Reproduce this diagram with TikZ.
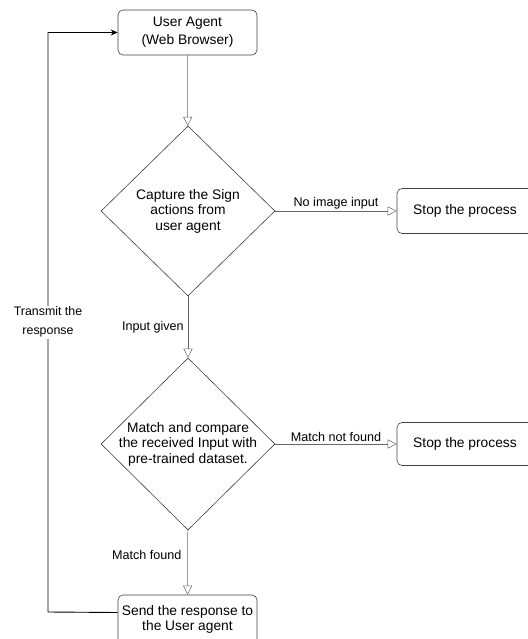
\documentclass[tikz,border=0pt]{standalone}
\usepackage{fontspec}
\setsansfont{Liberation Sans}
\usetikzlibrary{arrows.meta,shapes.geometric}

\tikzset{
  shapeline/.style = {draw = black!75, line width = 0.6pt},
  lbl/.style = {font = \sffamily\fontsize{12.6}{15}\selectfont}
}

\begin{document}
\begin{tikzpicture}[x=1pt,y=-1pt,
    >={Triangle[open,length=9pt,width=9pt]},
    every node/.style={font=\sffamily\fontsize{13.8}{15.5}\selectfont}]

  \useasboundingbox (0,0) rectangle (527,639);

    \node[rectangle,
          shapeline,
          rounded corners = 5pt,
          minimum width = 139pt,
          minimum height = 45pt
          ] (agent) at (187.5,32.5) {};
    \node[align=center, font=\sffamily\fontsize{13.8}{18}\selectfont] (agenttxt) at (agent.center) {User Agent\\(Web Browser)};

    \node[diamond,
          shapeline,
          minimum width = 174pt,
          minimum height = 170pt
          ] (capture) at (188,211) {};
    \node[align=center] (capturetxt) at (capture.center) {Capture the Sign\\actions from\\user agent};

    \node[rectangle,
          shapeline,
          rounded corners = 5pt,
          minimum width = 136pt,
          minimum height = 45pt
          ] (stopa) at (465,211) {};
    \node[] (stopatxt) at (stopa.center) {Stop the process};

    \node[diamond,
          shapeline,
          minimum width = 174pt,
          minimum height = 172pt
          ] (match) at (188,444) {};
    \node[align=center] (matchtxt) at (match.center) {Match and compare\\the received Input with\\pre-trained dataset.};

    \node[rectangle,
          shapeline,
          rounded corners = 5pt,
          minimum width = 136pt,
          minimum height = 43pt
          ] (stopb) at (465,444) {};
    \node[] (stopbtxt) at (stopb.center) {Stop the process};

    \node[rectangle,
          shapeline,
          rounded corners = 5pt,
          minimum width = 139pt,
          minimum height = 49pt
          ] (send) at (187.5,619.5) {};
    \node[align=center] (sendtxt) at (send.center) {Send the response to\\the User agent};

    \path[->, draw = black!60, line width = 0.5pt, every node/.style={lbl}]
    (agent) edge [] node [] {} (capture)
    (capture) edge [] node [above, inner sep=2pt] {No image input} (stopa)
    (capture) edge [] node [left, inner sep=4pt] {Input given} (match)
    (match) edge [] node [above, inner sep=2pt] {Match not found} (stopb)
    (match) edge [] node [left, pos=0.38, inner sep=6pt] {Match found} (send);

    % back to the browser
    \coordinate (backturn) at (48,612);
    \draw[-{Stealth[length=7pt,width=6pt]}, line width = 0.9pt]
    ([yshift=7pt]send.west) -- (backturn) |- node [lbl, pos=0.25, fill=white,
    align=center, inner sep=1pt, font=\sffamily\fontsize{12.4}{19}\selectfont] (backtxt) {Transmit the\\response} (agent.west);

\end{tikzpicture}
\end{document}
